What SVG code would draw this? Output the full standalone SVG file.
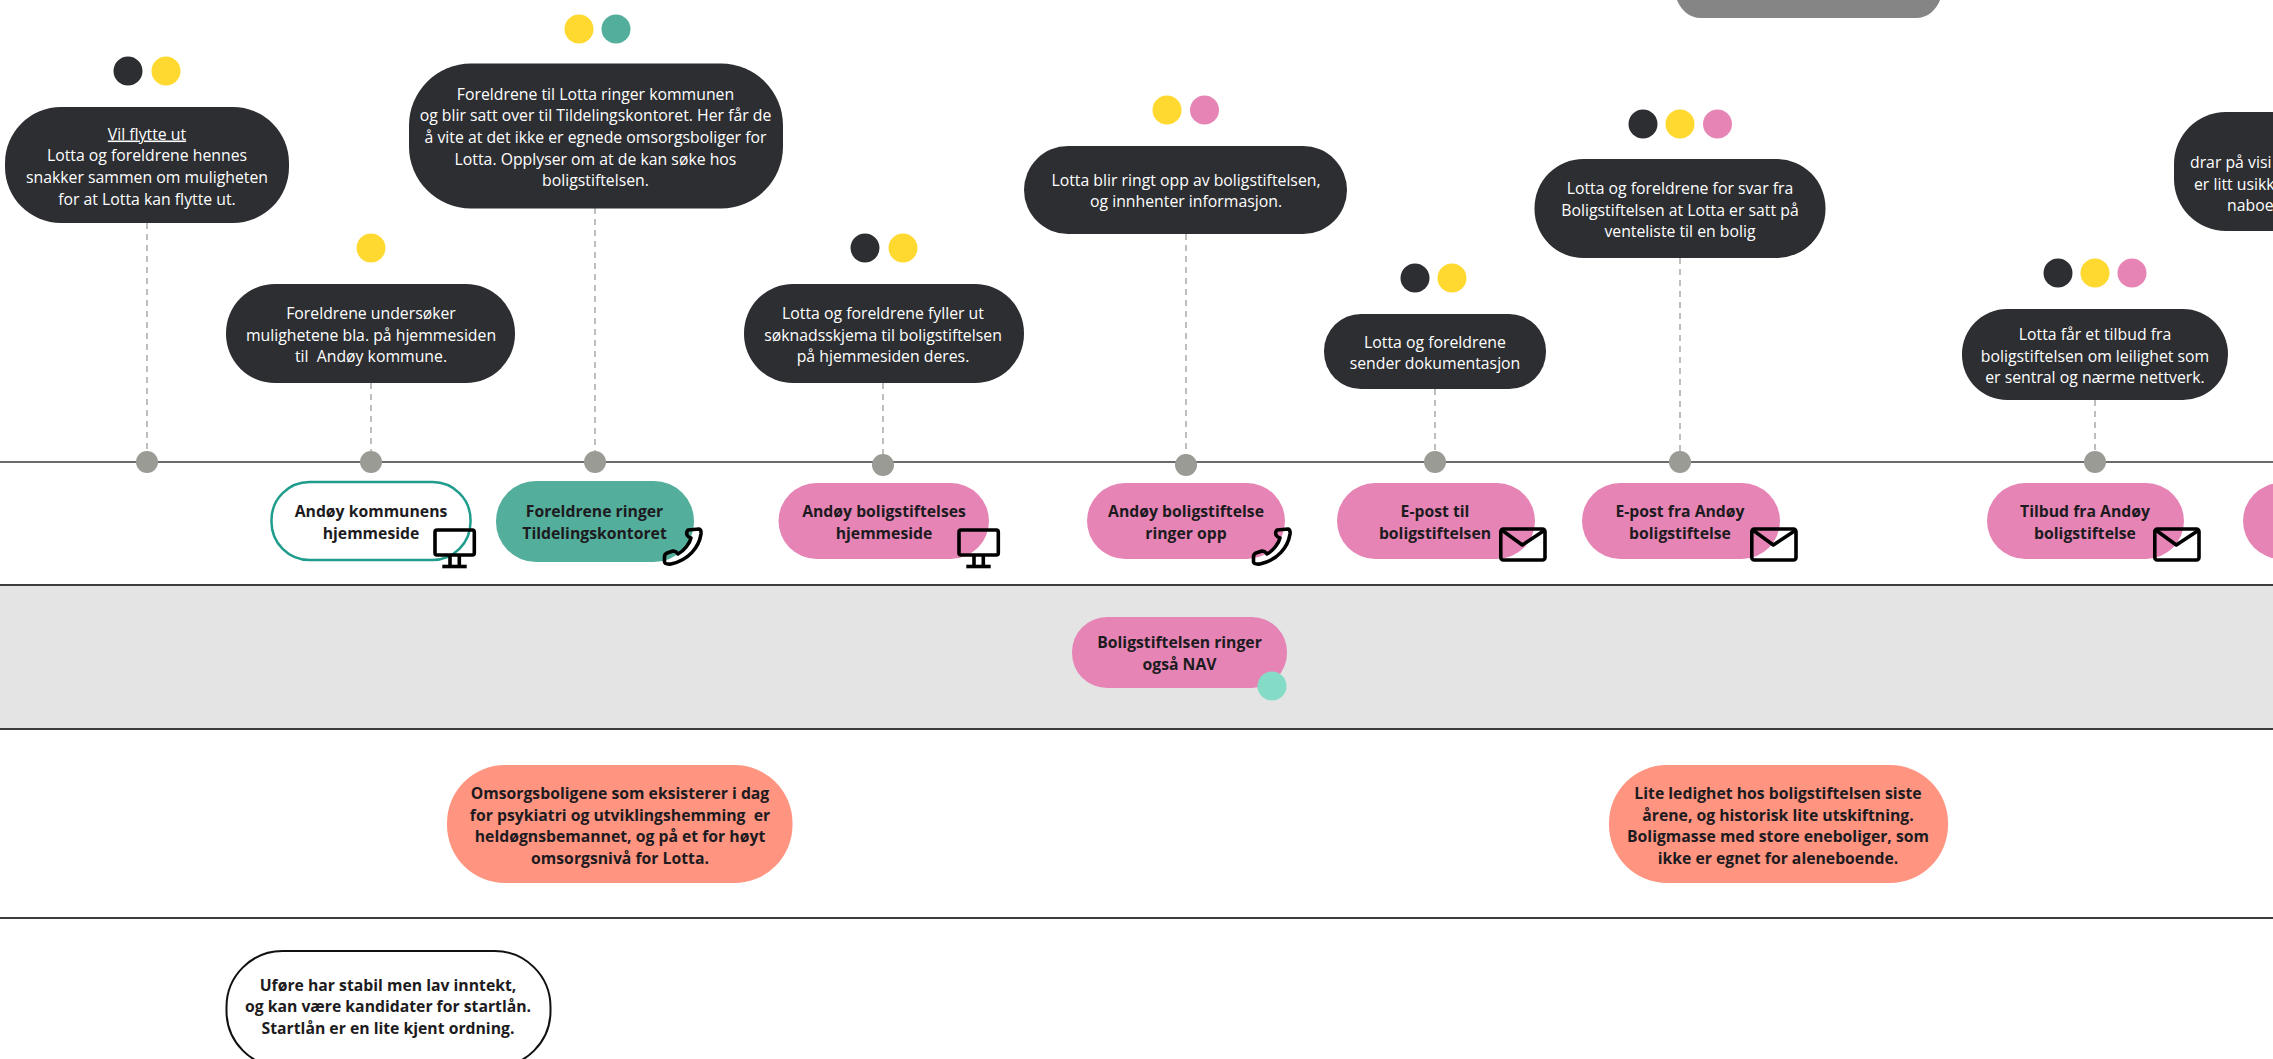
<svg xmlns="http://www.w3.org/2000/svg" xmlns:xlink="http://www.w3.org/1999/xlink" width="2273" height="1059" viewBox="0 0 2273 1059">
<style>
text{font-family:"Open Sans","Noto Sans","Liberation Sans",sans-serif;font-size:15.800px;text-anchor:middle;white-space:pre}
.dk{fill:#2d2e32}
.y{fill:#ffd92f}
.t{fill:#54ae9c}
.p{fill:#e685b5}
.o{fill:#ff9480}
.w{fill:#fff;font-weight:400}
.b{fill:#1d1b20;font-weight:700;font-size:15.750px}
.n{fill:#9a9b94}
.dash{stroke:#a9a9a9;stroke-width:1.5;stroke-dasharray:6 5;fill:none}
.ax{stroke:#6b6b6b;stroke-width:2.200;fill:none}
.ln{stroke:#3c3c3c;stroke-width:2;fill:none}
.ic{stroke:#000;stroke-width:3.600;fill:none;stroke-linejoin:round}
</style>
<defs>
<g id="mon"><rect x="1" y="3" width="39.300" height="25" rx="2" class="ic"/><path class="ic" d="M16 28v11M25.300 28v11"/><path class="ic" stroke-width="3" d="M8.300 39.500H32.700"/></g>
<g id="env"><rect x="1.800" y="1" width="44.200" height="31" rx="2.500" class="ic"/><path class="ic" d="M2.700 2L23.300 17L46 2"/></g>
<path id="ph" class="ic" d="M26 3L37 2Q39.500 2.500 39 7C37 20 27 33 9 37Q3 37.500 2.500 35L2.500 30Q2.500 27 5 26L11 24Q14 24 16 27C22 24 28 16 29 11Q26 10 25 8Q24 5 26 3Z"/>
</defs>
<rect width="2273" height="1059" fill="#fff"/>
<g id="lanes">
<rect x="0" y="585" width="2273" height="144" fill="#e4e4e4"/>
<path class="ax" d="M0 462H2273"/>
<path class="ln" d="M0 585H2273M0 729H2273M0 918H2273"/>
<path id="top-block" d="M1677 -5H1940V0C1936 10 1928 18 1916 18H1701C1689 18 1681 10 1677 0Z" fill="#858585"/>
</g>
<g id="connectors">
<path class="dash" d="M147 223V452M371 383V452M595 208V452M883 383V455M1186 234V455M1435 389V452M1680 258V452M2095 400V452"/>
</g>
<g id="step1"><rect class="dk" x="5" y="107" width="284" height="116" rx="56"/><circle class="dk" cx="128" cy="71" r="14.500"/><circle class="y" cx="166" cy="71" r="14.500"/><circle class="n" cx="147" cy="462" r="11"/>
<text class="w"><tspan x="147" y="139.500" text-decoration="underline">Vil flytte ut</tspan><tspan x="147" y="161">Lotta og foreldrene hennes</tspan><tspan x="147" y="183">snakker sammen om muligheten</tspan><tspan x="147" y="204.500">for at Lotta kan flytte ut.</tspan></text></g>
<g id="step2"><rect class="dk" x="226" y="284" width="289" height="99" rx="49"/><circle class="y" cx="371" cy="248" r="14.500"/><circle class="n" cx="371" cy="462" r="11"/>
<text class="w"><tspan x="371" y="318.500">Foreldrene undersøker</tspan><tspan x="371" y="340.500">mulighetene bla. på hjemmesiden</tspan><tspan x="371" y="362">til  Andøy kommune.</tspan></text></g>
<g id="step3"><rect class="dk" x="409" y="63.500" width="374" height="145" rx="62"/><circle class="y" cx="579" cy="29" r="14.500"/><circle class="t" cx="616" cy="29" r="14.500"/><circle class="n" cx="595" cy="462" r="11"/>
<text class="w"><tspan x="595.500" y="99.500">Foreldrene til Lotta ringer kommunen</tspan><tspan x="595.500" y="121">og blir satt over til Tildelingskontoret. Her får de</tspan><tspan x="595.500" y="142.500">å vite at det ikke er egnede omsorgsboliger for</tspan><tspan x="595.500" y="164.500">Lotta. Opplyser om at de kan søke hos</tspan><tspan x="595.500" y="186">boligstiftelsen.</tspan></text></g>
<g id="step4"><rect class="dk" x="744" y="284" width="280" height="99" rx="49"/><circle class="dk" cx="865" cy="248" r="14.500"/><circle class="y" cx="903" cy="248" r="14.500"/><circle class="n" cx="883" cy="465" r="11"/>
<text class="w"><tspan x="883" y="318.500">Lotta og foreldrene fyller ut</tspan><tspan x="883" y="340.500">søknadsskjema til boligstiftelsen</tspan><tspan x="883" y="362">på hjemmesiden deres.</tspan></text></g>
<g id="step5"><rect class="dk" x="1024" y="146" width="323" height="88" rx="44"/><circle class="y" cx="1167" cy="110" r="14.500"/><circle class="p" cx="1204.500" cy="110" r="14.500"/><circle class="n" cx="1186" cy="465" r="11"/>
<text class="w"><tspan x="1186" y="185.500">Lotta blir ringt opp av boligstiftelsen,</tspan><tspan x="1186" y="207">og innhenter informasjon.</tspan></text></g>
<g id="step6"><rect class="dk" x="1324" y="314" width="222" height="75" rx="37"/><circle class="dk" cx="1415" cy="278" r="14.500"/><circle class="y" cx="1452" cy="278" r="14.500"/><circle class="n" cx="1435" cy="462" r="11"/>
<text class="w"><tspan x="1435" y="347.500">Lotta og foreldrene</tspan><tspan x="1435" y="369">sender dokumentasjon</tspan></text></g>
<g id="step7"><rect class="dk" x="1534.500" y="159" width="291" height="99" rx="49"/><circle class="dk" cx="1643" cy="124" r="14.500"/><circle class="y" cx="1680" cy="124" r="14.500"/><circle class="p" cx="1717.500" cy="124" r="14.500"/><circle class="n" cx="1680" cy="462" r="11"/>
<text class="w"><tspan x="1680" y="193.500">Lotta og foreldrene for svar fra</tspan><tspan x="1680" y="215.500">Boligstiftelsen at Lotta er satt på</tspan><tspan x="1680" y="237">venteliste til en bolig</tspan></text></g>
<g id="step8"><rect class="dk" x="1962" y="309" width="266" height="91" rx="45"/><circle class="dk" cx="2058" cy="273" r="14.500"/><circle class="y" cx="2095" cy="273" r="14.500"/><circle class="p" cx="2132" cy="273" r="14.500"/><circle class="n" cx="2095" cy="462" r="11"/>
<text class="w"><tspan x="2095" y="339.500">Lotta får et tilbud fra</tspan><tspan x="2095" y="361.500">boligstiftelsen om leilighet som</tspan><tspan x="2095" y="383">er sentral og nærme nettverk.</tspan></text></g>
<g id="step9"><rect class="dk" x="2174" y="112" width="240" height="119" rx="52"/>
<text class="w" style="text-anchor:start"><tspan x="2190" y="167.500">drar på visi</tspan><tspan x="2194" y="189.500">er litt usikk</tspan><tspan x="2227" y="211">naboe</tspan></text></g>
<g id="ch1"><rect x="271.500" y="482" width="199" height="78" rx="38" fill="#fff" stroke="#1f9c8b" stroke-width="2.500"/>
<text class="b"><tspan x="371" y="516.500">Andøy kommunens</tspan><tspan x="371" y="538.500">hjemmeside</tspan></text><use xlink:href="#mon" href="#mon" x="434" y="527"/></g>
<g id="ch2"><rect class="t" x="496" y="481" width="198" height="81" rx="40"/>
<text class="b"><tspan x="594.500" y="516.500">Foreldrene ringer</tspan><tspan x="594.500" y="538.500">Tildelingskontoret</tspan></text><use xlink:href="#ph" href="#ph" x="662" y="527"/></g>
<g id="ch3"><rect class="p" x="778.500" y="483" width="210.500" height="76" rx="38"/>
<text class="b"><tspan x="884" y="516.500">Andøy boligstiftelses</tspan><tspan x="884" y="538.500">hjemmeside</tspan></text><use xlink:href="#mon" href="#mon" x="958" y="527"/></g>
<g id="ch4"><rect class="p" x="1087" y="483" width="198" height="76" rx="38"/>
<text class="b"><tspan x="1186" y="516.500">Andøy boligstiftelse</tspan><tspan x="1186" y="538.500">ringer opp</tspan></text><use xlink:href="#ph" href="#ph" x="1251" y="527"/></g>
<g id="ch5"><rect class="p" x="1337" y="483" width="198" height="76" rx="38"/>
<text class="b"><tspan x="1435" y="516.500">E-post til</tspan><tspan x="1435" y="538.500">boligstiftelsen</tspan></text><use xlink:href="#env" href="#env" x="1499" y="528"/></g>
<g id="ch6"><rect class="p" x="1582" y="483" width="198" height="76" rx="38"/>
<text class="b"><tspan x="1680" y="516.500">E-post fra Andøy</tspan><tspan x="1680" y="538.500">boligstiftelse</tspan></text><use xlink:href="#env" href="#env" x="1750" y="528"/></g>
<g id="ch7"><rect class="p" x="1987" y="483" width="197" height="76" rx="38"/>
<text class="b"><tspan x="2085" y="516.500">Tilbud fra Andøy</tspan><tspan x="2085" y="538.500">boligstiftelse</tspan></text><use xlink:href="#env" href="#env" x="2153" y="528"/></g>
<g id="ch8"><rect class="p" x="2243" y="483" width="120" height="76" rx="38"/></g>
<g id="nav"><rect class="p" x="1072" y="617" width="215" height="71" rx="35"/><circle cx="1272" cy="686" r="14.500" fill="#84dcc6"/>
<text class="b"><tspan x="1179.500" y="648">Boligstiftelsen ringer</tspan><tspan x="1179.500" y="670">også NAV</tspan></text></g>
<g id="note1"><rect class="o" x="447" y="765" width="345.500" height="118" rx="58"/>
<text class="b"><tspan x="620" y="798.500">Omsorgsboligene som eksisterer i dag</tspan><tspan x="620" y="820.500">for psykiatri og utviklingshemming  er</tspan><tspan x="620" y="842">heldøgnsbemannet, og på et for høyt</tspan><tspan x="620" y="863.500">omsorgsnivå for Lotta.</tspan></text></g>
<g id="note2"><rect class="o" x="1609" y="765" width="339" height="118" rx="58"/>
<text class="b"><tspan x="1778" y="798.500">Lite ledighet hos boligstiftelsen siste</tspan><tspan x="1778" y="820.500">årene, og historisk lite utskiftning.</tspan><tspan x="1778" y="842">Boligmasse med store eneboliger, som</tspan><tspan x="1778" y="863.500">ikke er egnet for aleneboende.</tspan></text></g>
<g id="note3"><rect x="226.500" y="951" width="324" height="116" rx="56" fill="#fff" stroke="#111" stroke-width="2"/>
<text class="b"><tspan x="388" y="990.500">Uføre har stabil men lav inntekt,</tspan><tspan x="388" y="1012">og kan være kandidater for startlån.</tspan><tspan x="388" y="1033.500">Startlån er en lite kjent ordning.</tspan></text></g>
</svg>
